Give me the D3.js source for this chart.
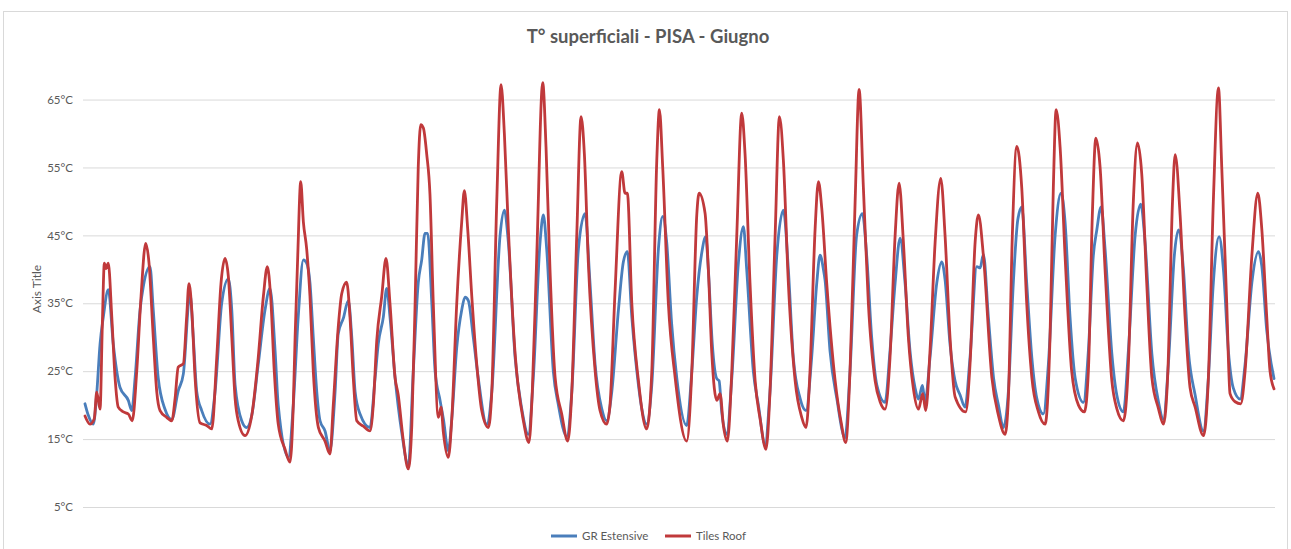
<!DOCTYPE html>
<html>
<head>
<meta charset="utf-8">
<script src="https://cdn.jsdelivr.net/npm/d3@7"></script>
<style>
  html, body { margin: 0; padding: 0; background: #fff; }
  svg { display: block; font-family: Lato, "Open Sans", sans-serif; }
</style>
</head>
<body>
<svg id="chart" width="1291" height="549"></svg>
<script>
// ---- data (time in hours from 1 June 00:00, temperature in °C) ----
const chartTitle = "T° superficiali - PISA - Giugno";
const yAxisTitle = "Axis Title";
const seriesNames = ["GR Estensive", "Tiles Roof"];
const yTicks = [5, 15, 25, 35, 45, 55, 65];

const grEstensive = [[0,20.2],[2,18.5],[5,17.2],[7.1,21.7],[9.1,29],[11.1,33],[14.1,37],[17.1,29],[19.2,25],[21.2,22.6],[26.2,20.7],[28.3,19.2],[30.3,24],[33.3,34],[35.3,37.5],[39.3,40.4],[41.3,34],[44.3,24],[48.4,19.4],[52.5,17.9],[56.4,22.1],[59.5,24.6],[63.5,36.4],[65.5,30],[67.6,22],[70.6,19.2],[75.6,17.2],[78.7,22],[82.7,35],[86.7,38.6],[88.8,34],[90.8,23],[94.8,17.7],[97.8,16.7],[100.9,18.5],[104.8,26],[108.9,34],[111.9,37.2],[115,28],[116.9,20],[123,12.3],[126,20],[129,33],[132.1,41.4],[134.1,40.9],[136.1,38],[138.1,30],[140.2,22],[142.2,17.7],[145.2,16.2],[148.2,13.3],[151.3,22],[153.2,30.5],[156.3,32.8],[159.3,35.4],[161.4,30],[163.4,22],[166.4,18.7],[172.4,16.7],[175.5,24],[177.4,29],[180.5,33],[182.5,37.2],[184.5,33],[187.6,24],[191.6,16],[195.6,11.1],[198.6,25],[201.6,38],[203.7,41.4],[205.7,45.3],[207.3,45.3],[209.8,35],[211.8,25],[214.8,20.7],[216.8,18],[219.8,13.3],[221.9,18],[224.9,28.5],[227.9,34],[229.9,35.9],[231.9,35.4],[234.9,30],[237.9,24],[243,17.2],[246.1,22],[251.1,45],[253.7,48.7],[256.1,44],[260.2,27],[264.2,19.5],[268.2,15.7],[271.2,24],[275.3,44],[277.3,48],[279.3,43],[283.3,25],[286.4,20],[291.4,15.4],[294.5,22],[298.5,43],[302.5,48.2],[305.5,38],[308.6,26],[312.6,19.5],[315.6,17.7],[318.7,22],[322.7,34],[325.7,41.1],[328.1,42.6],[330.8,33],[334.8,23],[336.8,19.5],[339.8,17.2],[342.9,23],[346.9,43],[349.5,47.8],[351.9,44],[354.9,32],[358,24],[364,17],[367.1,25],[370.1,36],[373.1,42.4],[375.5,44.8],[377.1,40],[379.5,29],[382.2,23.9],[383.6,23.6],[385.2,19],[388.2,15.7],[391.3,24],[395.3,41],[398.3,46.3],[400.3,40],[404.3,25],[407.4,20],[411.4,14.2],[414.4,22],[418.5,42],[422.5,48.7],[425.5,40],[428.5,27],[432.6,21],[436.2,19.2],[439.6,27],[442.7,38],[444.7,42.1],[446.7,40],[447.7,38.4],[450.7,28],[454.8,21],[459.8,15.2],[462.8,25],[466.8,45],[470.3,48.2],[472.9,42],[475.9,30],[479,23],[484,20.4],[487,28],[490.1,38],[493.1,44.6],[496.1,38],[499.1,28],[502.2,22.5],[504.2,20.9],[506.6,22.9],[508.2,20.5],[511.2,27],[515.3,38],[518.3,41.1],[520.3,38.5],[523.3,29],[526.4,23.5],[529.4,21.5],[532.4,19.7],[535.4,27],[539.5,40.4],[541.5,40.2],[543.5,42.2],[546.5,33],[549.6,24.1],[552.6,20],[555.6,16.7],[558.6,22],[561.6,38],[564.3,47.3],[566.7,49.2],[569.7,38],[572.8,27],[575.8,21],[579.8,18.7],[582.8,26],[586.9,45],[590.5,51.2],[592.9,47],[595.9,33],[599,24],[604,20.4],[607,28],[610,42],[612.1,45.8],[614.7,49.2],[617.1,43],[621.2,27.6],[624.2,21.5],[628.2,19],[631.2,28],[635.3,45],[638.7,49.6],[641.3,44],[645.4,27.6],[649.4,20.5],[652.4,17.9],[655.4,26],[659,42],[661.5,45.8],[664.5,40],[667.5,28],[671.6,21.5],[676.6,16.2],[679.6,24],[682.6,38],[686.1,44.8],[688.7,40],[691.7,28],[694.7,22.5],[698.8,20.9],[701.8,26],[705.9,38],[709.9,42.6],[711.9,40.5],[714.9,31],[719.3,23.9]];

const tilesRoof = [[0,18.4],[3,17.2],[5.6,18],[7.1,21.9],[9.1,19.4],[10.5,32],[11.7,40.9],[12.7,40.1],[14.1,40.9],[16.2,33],[18.2,24],[20.1,19.7],[23.2,19],[26.2,18.7],[28.6,17.7],[31.3,25],[33.9,36],[36.7,43.8],[38.7,41],[41.3,30],[43.4,22],[45.4,19.2],[49.4,18.2],[52.5,17.7],[54.5,21],[56.4,25.6],[59.5,26.1],[61.5,33],[62.9,37.9],[64.6,34],[66.6,24],[69.6,17.4],[73.6,17],[76.7,16.5],[79.7,27],[82.3,38],[84.7,41.6],[86.7,39],[88.8,30],[90.8,21],[92.7,17.7],[96.8,15.5],[100.9,18.5],[104.8,27],[107.9,36],[110.3,40.4],[112.3,36],[114.5,25],[116.9,17.2],[121,13.5],[124,11.6],[126,20],[127.1,30],[128.7,42],[130.5,52.9],[132.1,47],[134.1,43],[136.1,36],[138.1,25],[141.2,16.7],[145.2,14.7],[148.2,12.8],[150.2,20],[153.2,31.5],[155.3,36.4],[158.3,38.1],[160.3,33],[162.3,24],[164.4,17.7],[168.4,16.9],[172.4,16.2],[174.4,20],[176.5,29.5],[179.5,36],[182.1,41.6],[184.5,35],[187.6,24],[189.5,21.5],[192.4,15.1],[195.6,10.6],[197.7,17],[199.7,35],[201.6,55],[203.1,61.3],[204.7,60.8],[206.7,57],[208.7,51],[210.7,35],[213.8,18.2],[215.4,19.7],[216.8,16],[219.8,12.3],[221.9,18],[224.9,35],[227.9,47],[229.5,51.6],[231.5,46],[234,36],[237,26],[240,19.2],[244,16.7],[246.1,22],[249.1,50],[251.7,67.2],[253.7,60],[256.1,46],[260.2,27.6],[265.2,17.7],[268.6,14.5],[270.6,22],[273.3,42],[276.9,67.5],[278.9,58],[281.3,40],[284.4,24.1],[288.4,18.7],[292,14.7],[294.5,22],[297.5,45],[300.1,62.5],[302.1,57],[304.5,41],[308.6,25.1],[311.6,19.2],[315.6,17.2],[317.6,20],[320.7,37],[324.7,54.4],[326.7,51.2],[328.1,51.2],[330.8,35],[334.8,23.6],[339.8,16.5],[342.9,25],[345.9,56],[347.5,63.5],[349.5,55],[352.9,35],[357,24.1],[364,14.7],[367.1,25],[370.1,48],[371.5,51.2],[375.1,48.3],[377.1,40],[379.2,27.6],[382.2,20.7],[384.2,21.7],[386.2,17],[388.6,14.7],[391.3,25],[394.3,45],[397.3,63],[399.3,57],[402.3,38],[405.4,23.6],[408.4,18],[412,13.5],[414.4,22],[417.5,45],[420.1,62.5],[422.5,56],[425.5,38],[429.6,23.6],[433.6,18.2],[436.2,16.7],[438.6,25],[441.7,46],[443.7,52.9],[445.7,49],[448.7,38],[453.8,23.6],[457.4,17.5],[460.2,14.5],[462.8,25],[465.9,50],[468.3,66.5],[470.9,52],[473.9,35],[478,23.6],[481,20.5],[484,19.4],[487,27],[490.1,45],[492.5,52.7],[495.1,44],[498.1,30],[501.1,22.5],[504.2,19.4],[506.8,21.7],[508.6,19.2],[511.2,28],[514.3,44],[517.7,53.4],[520.3,45],[523.3,30],[526.4,21.2],[532.8,19],[535.4,26],[538.5,44],[540.5,48],[543.5,42],[548.6,24.1],[552.6,18.5],[556.6,15.7],[558.6,21],[561,45],[563.7,58.1],[566.7,52],[569.7,35],[572.8,24.1],[576.8,19],[580.8,17.2],[583.8,30],[585.8,52],[587.5,63.5],[589.9,58],[592.9,42],[596.9,25],[601,20],[604.6,19],[607,25],[609.4,48],[611.5,59.3],[614.1,55],[617.1,40],[621.2,23.6],[624.2,19.5],[628.2,17.7],[631.2,26],[634.2,50],[636.7,58.6],[639.3,54],[642.3,38],[645.4,24.1],[649.4,19.5],[652.4,17.2],[655.1,25],[657.9,50],[659.5,56.9],[662.5,48],[665.5,33],[668.5,22.6],[671.6,19.7],[676.6,15.5],[679.6,24],[682.6,50],[685.7,66.7],[687.7,55],[690.7,35],[692.7,21.7],[695.8,20.5],[699.2,20.2],[701.8,25],[705.9,42],[709.5,51.2],[711.9,46],[714.9,33],[716.9,25],[719.3,22.4]];

// ---- drawing ----
const svg = d3.select("#chart");
const W = 1291, H = 549;
const colors = ["#4A7EBB", "#C0393B"];
const textColor = "#595959";

svg.append("rect").attr("x", 3.5).attr("y", 11.5).attr("width", 1284).attr("height", 545)
  .attr("fill", "#fff").attr("stroke", "#D9D9D9");

const plot = { left: 83, right: 1275, top: 65.6, bottom: 507 };
const x = d3.scaleLinear().domain([0, 719.3]).range([plot.left + 2, plot.right - 1]);
const y = d3.scaleLinear().domain([5, 70]).range([plot.bottom, plot.top]);

// gridlines + labels via axis
const yAxis = d3.axisLeft(y).tickValues(yTicks).tickSize(-(plot.right - plot.left))
  .tickPadding(10).tickFormat(d => d + "°C");
const gy = svg.append("g").attr("transform", `translate(${plot.left},0)`).call(yAxis);
gy.select(".domain").remove();
gy.selectAll(".tick line").attr("stroke", "#D9D9D9").attr("stroke-width", 1);
gy.selectAll(".tick text").attr("fill", textColor).style("font-size", "11.5px")
  .style("font-family", "Lato, sans-serif");

// title
svg.append("text").attr("x", 648).attr("y", 43).attr("text-anchor", "middle")
  .attr("fill", textColor).style("font-size", "18.5px").style("font-weight", "bold")
  .text(chartTitle);

// axis title
svg.append("text").attr("transform", "translate(41,289) rotate(-90)")
  .attr("text-anchor", "middle").attr("fill", textColor).style("font-size", "12px")
  .text(yAxisTitle);

// lines
const line = d3.line().x(d => x(d[0])).y(d => y(d[1])).curve(d3.curveMonotoneX);
[grEstensive, tilesRoof].forEach((s, i) => {
  svg.append("path").datum(s).attr("d", line).attr("fill", "none")
    .attr("stroke", colors[i]).attr("stroke-width", 2.8)
    .attr("stroke-linejoin", "round").attr("stroke-linecap", "round");
});

// legend
const legendItems = [{ x: 551 }, { x: 665 }];
seriesNames.forEach((name, i) => {
  const g = svg.append("g").attr("transform", `translate(${legendItems[i].x},536)`);
  g.append("line").attr("x1", 0).attr("x2", 26).attr("y1", 0).attr("y2", 0)
    .attr("stroke", colors[i]).attr("stroke-width", 3);
  g.append("text").attr("x", 31).attr("y", 4).attr("fill", textColor)
    .style("font-size", "11.5px").text(name);
});
</script>
</body>
</html>
